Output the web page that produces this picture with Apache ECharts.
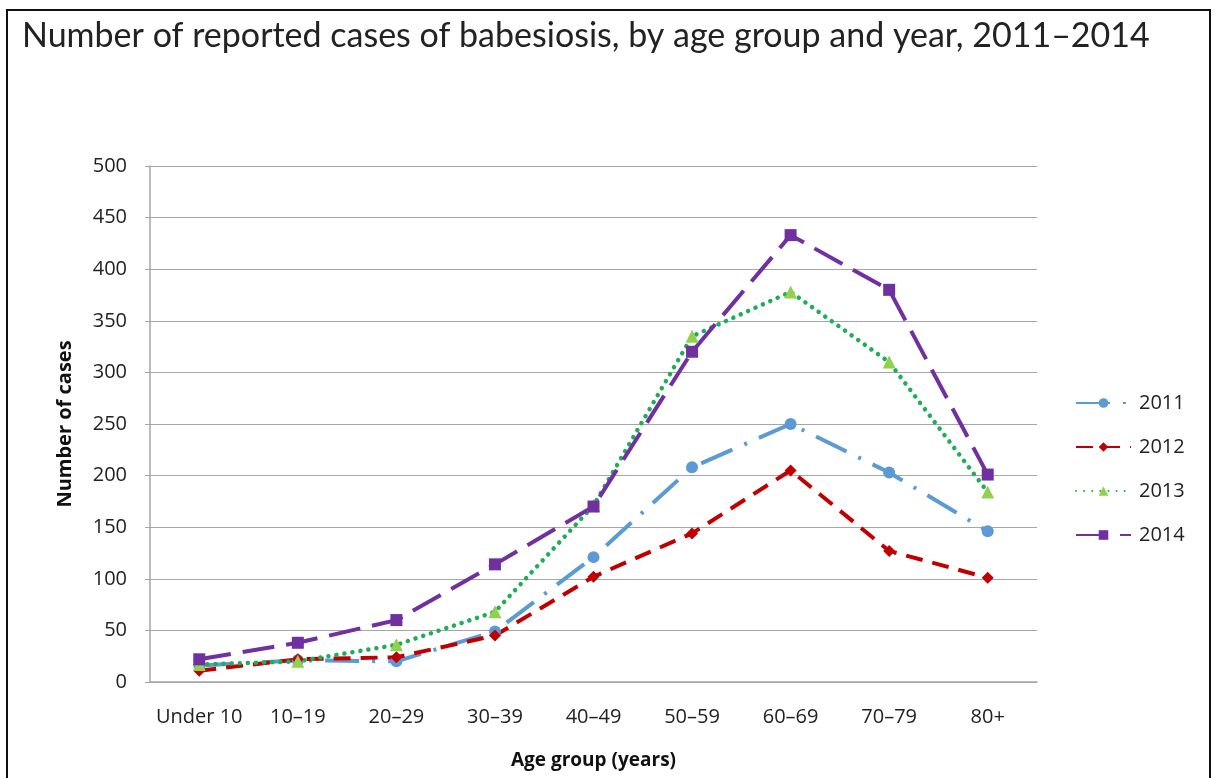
<!DOCTYPE html>
<html>
<head>
<meta charset="utf-8">
<script src="https://cdn.jsdelivr.net/npm/echarts@6/dist/echarts.min.js"></script>
<style>
  html, body { margin: 0; padding: 0; background: #ffffff; }
  #chart { width: 1217px; height: 778px; }
</style>
</head>
<body>
<div id="chart"></div>
<script>
// Age groups on the x axis
const ageGroups = ['Under 10', '10–19', '20–29', '30–39', '40–49', '50–59', '60–69', '70–79', '80+'];

// Reported babesiosis cases per age group, one array per year
const cases2011 = [16, 21, 20, 49, 121, 208, 250, 203, 146];
const cases2012 = [11, 22, 24, 45, 102, 144, 205, 127, 101];
const cases2013 = [17, 20, 36, 68, 171, 335, 378, 310, 184];
const cases2014 = [22, 38, 60, 114, 170, 320, 433, 380, 201];

const yearNames = ['2011', '2012', '2013', '2014'];

const TITLE_FONT = 'Lato, "Open Sans", sans-serif';
const AXIS_FONT = '"Open Sans", Lato, sans-serif';

const chart = echarts.init(document.getElementById('chart'), null, { renderer: 'canvas' });

function lineSeries(name, data, color, markerColor, symbol, symbolSize, dash, width, cap) {
  return {
    name: name,
    type: 'line',
    data: data,
    symbol: symbol,
    symbolSize: symbolSize,
    showAllSymbol: true,
    lineStyle: { color: color, width: width, type: dash, cap: cap || 'butt' },
    itemStyle: { color: markerColor, borderWidth: 0 },
    emphasis: { disabled: true },
    animation: false
  };
}

const option = {
  backgroundColor: '#ffffff',
  animation: false,
  title: {
    text: 'Number of reported cases of babesiosis, by age group and year, 2011–2014',
    left: 17,
    top: 14,
    textStyle: { fontFamily: TITLE_FONT, fontSize: 34, fontWeight: 'normal', color: '#222222' }
  },
  graphic: [{
    type: 'rect',
    shape: { x: 7, y: 10, width: 1203, height: 790 },
    style: { fill: 'none', stroke: '#111111', lineWidth: 2 },
    silent: true
  }],
  legend: {
    orient: 'vertical',
    left: 1070,
    top: 388,
    itemWidth: 55,
    itemHeight: 12,
    itemGap: 24,
    textStyle: { fontFamily: AXIS_FONT, fontSize: 20, color: '#222222', padding: [0, 0, 0, 3] },
    data: yearNames
  },
  grid: { left: 150, right: 180, top: 166, bottom: 96, containLabel: false },
  xAxis: {
    type: 'category',
    data: ageGroups,
    boundaryGap: true,
    name: 'Age group (years)',
    nameLocation: 'middle',
    nameGap: 69,
    nameTextStyle: { fontFamily: AXIS_FONT, fontSize: 19, fontWeight: 'bold', color: '#111111' },
    axisLine: { lineStyle: { color: '#a6a6a6', width: 1.5 } },
    axisTick: { show: false },
    axisLabel: { interval: 0, hideOverlap: false, fontFamily: AXIS_FONT, fontSize: 20, color: '#222222', margin: 25 }
  },
  yAxis: {
    type: 'value',
    min: 0,
    max: 500,
    interval: 50,
    name: 'Number of cases',
    nameLocation: 'middle',
    nameRotate: 90,
    nameGap: 75,
    nameTextStyle: { fontFamily: AXIS_FONT, fontSize: 20, fontWeight: 'bold', color: '#111111' },
    axisLine: { show: true, lineStyle: { color: '#a6a6a6', width: 1.5 } },
    axisTick: { show: true, length: 5, lineStyle: { color: '#a6a6a6' } },
    axisLabel: { fontFamily: AXIS_FONT, fontSize: 20, color: '#222222', margin: 23 },
    splitLine: { lineStyle: { color: '#a6a6a6', width: 1.2 } }
  },
  series: [
    lineSeries('2011', cases2011, '#5b9bd5', '#5b9bd5', 'circle', 12, [34, 13, 3, 13], 4),
    lineSeries('2012', cases2012, '#c00000', '#c00000', 'diamond', 12, [17, 10], 4),
    lineSeries('2013', cases2013, '#1fae57', '#92d050', 'triangle', 13, [0.1, 8], 4.5, 'round'),
    lineSeries('2014', cases2014, '#7030a0', '#7030a0', 'rect', 12, [32, 12], 4)
  ]
};

chart.setOption(option);
</script>
</body>
</html>
